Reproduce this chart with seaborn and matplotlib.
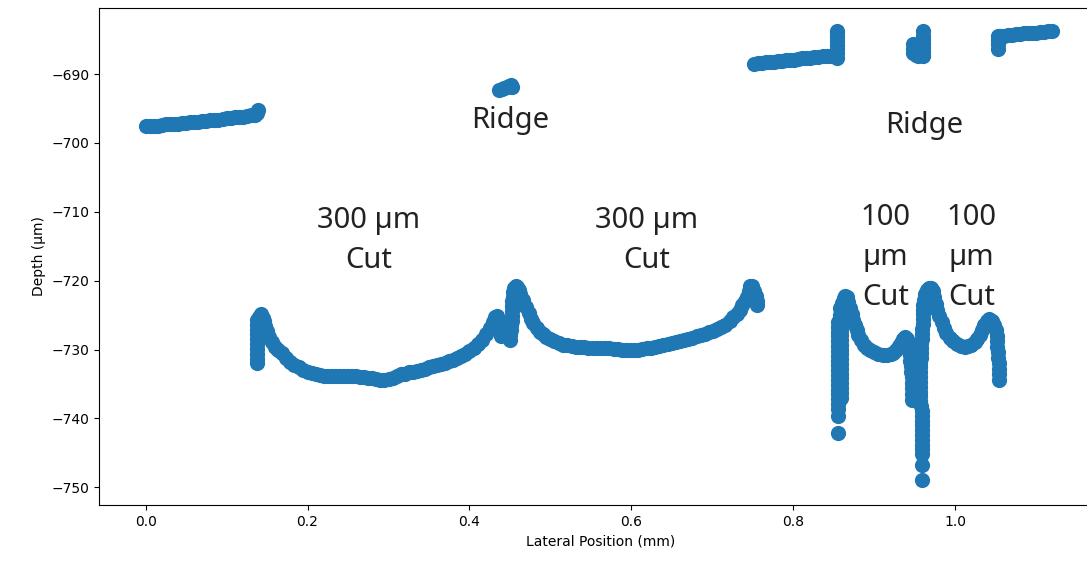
import pandas as pd
import matplotlib
matplotlib.use('Agg')
import matplotlib.pyplot as plt
import seaborn as sns

# profile segments, (lateral position mm, depth um)
ridge_left = [(0.000, -697.6), (0.005, -697.6), (0.010, -697.5), (0.015, -697.5), (0.020, -697.4),
              (0.025, -697.3), (0.030, -697.3), (0.035, -697.2), (0.040, -697.2), (0.045, -697.1),
              (0.050, -697.1), (0.055, -697.0), (0.060, -697.0), (0.065, -696.9), (0.070, -696.8),
              (0.075, -696.8), (0.080, -696.7), (0.085, -696.6), (0.090, -696.6), (0.095, -696.5),
              (0.100, -696.4), (0.105, -696.4), (0.110, -696.3), (0.115, -696.2), (0.120, -696.2),
              (0.125, -696.1), (0.130, -696.0), (0.135, -696.0), (0.138, -695.6), (0.139, -695.2)]

cut_300_a = [(0.137, -732.0), (0.137, -731.3), (0.137, -730.6), (0.137, -729.9), (0.137, -729.2),
             (0.137, -728.5), (0.137, -727.8), (0.137, -727.1), (0.137, -726.4), (0.137, -725.7),
             (0.140, -725.2), (0.142, -724.8), (0.145, -725.4), (0.146, -725.9), (0.148, -726.6),
             (0.150, -727.3), (0.153, -728.2), (0.156, -728.9), (0.160, -729.6), (0.164, -730.1),
             (0.168, -730.5), (0.173, -731.2), (0.178, -731.8), (0.183, -732.2), (0.189, -732.6),
             (0.195, -733.0), (0.200, -733.2), (0.205, -733.4), (0.210, -733.6), (0.215, -733.7),
             (0.220, -733.8), (0.225, -733.8), (0.230, -733.9), (0.235, -733.9), (0.240, -733.9),
             (0.245, -733.9), (0.250, -733.9), (0.255, -733.9), (0.260, -733.9), (0.265, -734.0),
             (0.270, -734.0), (0.275, -734.1), (0.280, -734.2), (0.285, -734.3), (0.290, -734.4),
             (0.295, -734.4), (0.300, -734.3), (0.305, -734.1), (0.310, -733.8), (0.315, -733.6),
             (0.320, -733.5), (0.325, -733.3), (0.330, -733.2), (0.335, -733.1), (0.340, -733.0),
             (0.345, -732.8), (0.350, -732.6), (0.355, -732.4), (0.360, -732.3), (0.365, -732.1),
             (0.370, -731.9), (0.375, -731.7), (0.380, -731.5), (0.385, -731.2), (0.390, -730.9),
             (0.395, -730.6), (0.400, -730.2), (0.405, -729.7), (0.410, -729.2), (0.415, -728.6),
             (0.420, -727.8), (0.425, -726.9), (0.429, -726.0), (0.432, -725.2), (0.434, -725.1),
             (0.436, -725.8), (0.437, -726.6), (0.438, -727.3), (0.439, -728.0)]

ridge_mid = [(0.437, -692.3), (0.440, -692.2), (0.443, -692.0), (0.446, -691.9),
             (0.449, -691.7), (0.451, -691.6), (0.452, -691.9)]

cut_300_b = [(0.450, -728.6), (0.450, -727.9), (0.451, -727.2), (0.451, -726.5), (0.452, -725.8),
             (0.452, -725.1), (0.453, -724.4), (0.453, -723.7), (0.453, -723.0), (0.454, -722.3),
             (0.454, -721.6), (0.455, -721.0), (0.457, -720.7), (0.459, -720.9), (0.461, -721.4),
             (0.463, -722.0), (0.4665, -722.8), (0.470, -723.8), (0.473, -724.7), (0.476, -725.5),
             (0.479, -726.1), (0.483, -726.9), (0.487, -727.4), (0.491, -727.8), (0.495, -728.2),
             (0.500, -728.5), (0.505, -728.8), (0.510, -729.1), (0.516, -729.3), (0.521, -729.4),
             (0.526, -729.5), (0.531, -729.6), (0.536, -729.6), (0.541, -729.6), (0.546, -729.7),
             (0.552, -729.7), (0.557, -729.7), (0.562, -729.8), (0.567, -729.8), (0.572, -729.8),
             (0.578, -729.9), (0.583, -729.9), (0.588, -730.0), (0.593, -730.0), (0.598, -730.1),
             (0.603, -730.1), (0.608, -730.0), (0.613, -729.9), (0.619, -729.8), (0.624, -729.7),
             (0.629, -729.6), (0.634, -729.5), (0.639, -729.4), (0.645, -729.2), (0.650, -729.0),
             (0.655, -728.9), (0.660, -728.7), (0.665, -728.6), (0.670, -728.4), (0.675, -728.3),
             (0.681, -728.1), (0.686, -727.9), (0.691, -727.7), (0.696, -727.5), (0.701, -727.3),
             (0.706, -727.0), (0.711, -726.7), (0.716, -726.4), (0.722, -725.8), (0.726, -725.3),
             (0.730, -724.8), (0.734, -724.2), (0.737, -723.6), (0.740, -723.0), (0.743, -722.3),
             (0.745, -721.5), (0.7465, -720.8), (0.749, -720.8), (0.752, -721.5), (0.754, -722.2),
             (0.755, -723.0), (0.755, -723.6)]

ridge_right = [(0.751, -688.5), (0.756, -688.4), (0.761, -688.4), (0.766, -688.3), (0.771, -688.2),
               (0.776, -688.2), (0.781, -688.1), (0.786, -688.1), (0.791, -688.0), (0.796, -687.9),
               (0.801, -687.9), (0.806, -687.8), (0.811, -687.7), (0.816, -687.7), (0.821, -687.6),
               (0.826, -687.5), (0.831, -687.5), (0.836, -687.4), (0.841, -687.3), (0.846, -687.3),
               (0.851, -687.2), (0.854, -687.6), (0.854, -687.0), (0.854, -686.4), (0.854, -685.8),
               (0.854, -685.2), (0.854, -684.6), (0.854, -684.0), (0.854, -683.7)]

cut_100_a = [(0.8555, -742.1), (0.8555, -739.7),
             (0.855, -738.6), (0.855, -737.9), (0.855, -737.2), (0.855, -736.5), (0.855, -735.8),
             (0.855, -735.1), (0.855, -734.4), (0.855, -733.7), (0.855, -733.0), (0.855, -732.3),
             (0.855, -731.6), (0.855, -730.9), (0.855, -730.2), (0.855, -729.5), (0.855, -728.8),
             (0.855, -728.1), (0.855, -727.4), (0.855, -726.7), (0.855, -726.0),
             (0.859, -737.0), (0.859, -736.3), (0.859, -735.6), (0.859, -734.9), (0.859, -734.2),
             (0.859, -733.5), (0.859, -732.8), (0.859, -732.1), (0.859, -731.4), (0.859, -730.7),
             (0.859, -730.0), (0.859, -729.3), (0.859, -728.6), (0.859, -727.9), (0.859, -727.2),
             (0.859, -726.5), (0.859, -725.8), (0.859, -725.1), (0.859, -724.4),
             (0.857, -725.0), (0.858, -724.0), (0.860, -723.2), (0.862, -722.5), (0.864, -722.2),
             (0.866, -722.4), (0.868, -723.1), (0.870, -724.0), (0.872, -724.9), (0.874, -725.7),
             (0.876, -726.5), (0.878, -727.2), (0.880, -727.9), (0.883, -728.6), (0.887, -729.3),
             (0.891, -729.8), (0.895, -730.1), (0.900, -730.4), (0.905, -730.6), (0.911, -730.8),
             (0.916, -730.8), (0.920, -730.7), (0.923, -730.5), (0.927, -730.0), (0.930, -729.5),
             (0.933, -729.0), (0.936, -728.5), (0.938, -728.2), (0.940, -728.4), (0.942, -729.2),
             (0.943, -730.0), (0.944, -730.8), (0.944, -731.6), (0.945, -732.4), (0.945, -733.2),
             (0.946, -734.0), (0.946, -734.8), (0.947, -735.6), (0.947, -736.4), (0.947, -737.3)]

ridge_narrow = [(0.960, -687.4), (0.960, -686.8), (0.960, -686.2), (0.960, -685.6), (0.960, -685.0),
                (0.960, -684.4), (0.960, -683.8), (0.948, -685.6), (0.948, -686.3), (0.948, -687.0),
                (0.951, -687.2), (0.951, -686.0), (0.954, -687.3)]

cut_100_b = [(0.9595, -749.0), (0.9595, -746.7),
             (0.9595, -745.2), (0.9595, -744.5), (0.9595, -743.8), (0.9595, -743.1), (0.9595, -742.4),
             (0.9595, -741.7), (0.9595, -741.0), (0.9595, -740.3), (0.9595, -739.6), (0.9595, -738.9),
             (0.958, -738.2), (0.957, -737.5), (0.957, -736.8), (0.957, -736.1), (0.957, -735.4),
             (0.957, -734.7), (0.957, -734.0), (0.957, -733.3), (0.957, -732.6), (0.957, -731.9),
             (0.958, -731.2), (0.958, -730.5), (0.958, -729.8), (0.958, -729.1), (0.959, -728.4),
             (0.959, -727.7), (0.959, -727.0), (0.960, -726.3), (0.960, -725.6), (0.960, -724.9),
             (0.960, -724.2), (0.960, -723.5),
             (0.961, -722.8), (0.963, -722.0), (0.965, -721.4), (0.967, -721.0), (0.970, -721.0),
             (0.972, -721.5), (0.974, -722.4), (0.976, -723.4), (0.978, -724.3), (0.980, -725.1),
             (0.983, -726.0), (0.986, -726.9), (0.989, -727.6), (0.993, -728.3), (0.997, -728.8),
             (1.002, -729.2), (1.007, -729.5), (1.012, -729.6), (1.016, -729.5), (1.020, -729.3),
             (1.024, -728.9), (1.027, -728.4), (1.030, -727.9), (1.033, -727.2), (1.036, -726.5),
             (1.039, -725.9), (1.042, -725.6), (1.045, -725.8), (1.048, -726.4), (1.050, -727.2),
             (1.051, -728.0), (1.052, -728.8), (1.052, -729.6), (1.053, -730.4), (1.053, -731.2),
             (1.054, -732.0), (1.054, -732.8), (1.054, -733.6), (1.054, -734.4)]

ridge_end = [(1.053, -686.4), (1.053, -685.7), (1.053, -685.0), (1.053, -684.4), (1.055, -684.4),
             (1.060, -684.4), (1.065, -684.3), (1.070, -684.3), (1.075, -684.2), (1.080, -684.2),
             (1.085, -684.1), (1.090, -684.1), (1.095, -684.0), (1.100, -684.0), (1.105, -683.9),
             (1.110, -683.9), (1.115, -683.8), (1.120, -683.8)]

labels = ["Ridge", "Ridge", "300 µm\nCut", "300 µm\nCut", "100\nµm\nCut", "100\nµm\nCut"]
label_x = [0.450, 0.961, 0.275, 0.619, 0.914, 1.020]
label_y = [-696.8, -697.5, -714.1, -714.1, -716.6, -716.6]

segments = [ridge_left, cut_300_a, ridge_mid, cut_300_b, ridge_right,
            cut_100_a, ridge_narrow, cut_100_b, ridge_end]
df = pd.concat([pd.DataFrame(s, columns=['x', 'y']) for s in segments], ignore_index=True)

fig = plt.figure(figsize=(10.87, 5.63), dpi=100)
# axes run past the right edge, the reference is cropped there
ax = fig.add_axes([99.3 / 1087, 58 / 563, 1002.7 / 1087, 497 / 563])

sns.scatterplot(data=df, x='x', y='y', ax=ax, color='#1f77b4', s=120,
                linewidth=0, legend=False)

for txt, tx, ty in zip(labels, label_x, label_y):
    ax.text(tx, ty, txt, ha='center', va='center', fontsize=21,
            family=['Noto Sans', 'DejaVu Sans'], color='#222222', linespacing=1.5)

ax.set_xlim(-0.0572, 1.1812)
ax.set_ylim(-752.57, -680.4)
ax.set_xlabel('Lateral Position (mm)')
ax.set_ylabel('Depth (µm)')

fig.savefig('out.png', dpi=100)
